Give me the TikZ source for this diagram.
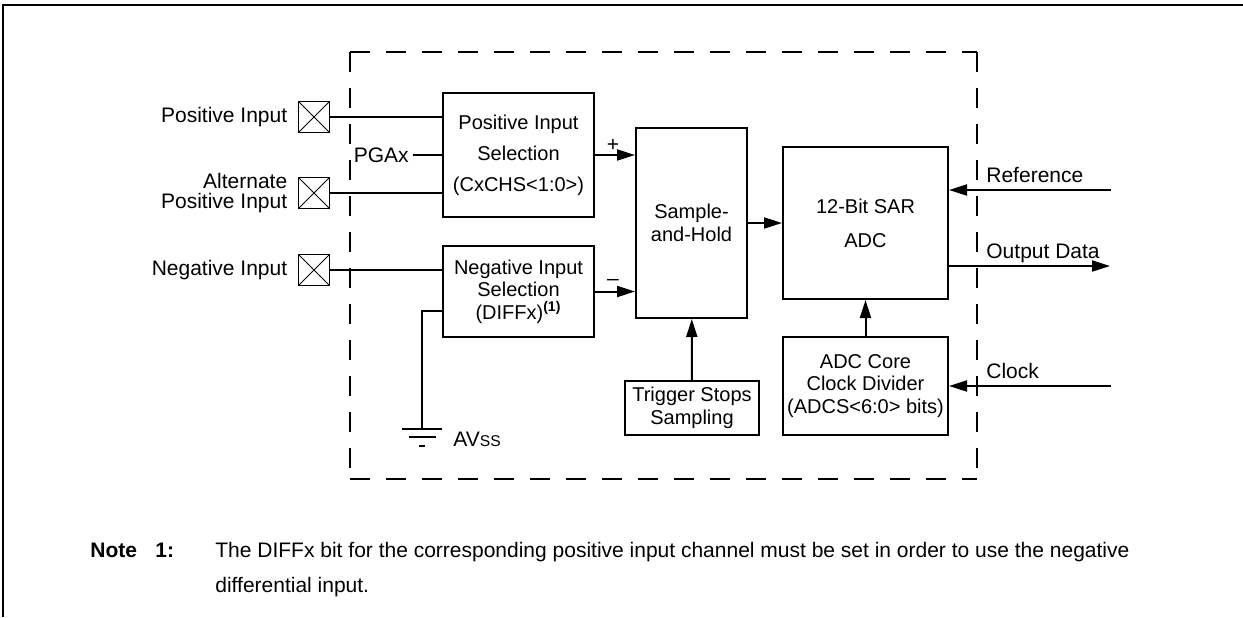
\documentclass[tikz,border=0pt]{standalone}
\usepackage{fontspec}
\setmainfont{Liberation Sans}
\usetikzlibrary{arrows.meta, positioning, calc}
\tikzset{
	blk/.style ={rectangle, draw=black, line width=1pt, align=center, inner sep=1pt, font=\fontsize{10}{11.25}\selectfont},
	pin/.style ={rectangle, draw=black, line width=0.9pt, minimum size=15.5pt, inner sep=0pt,
		path picture={\draw[line width=0.5pt] (path picture bounding box.south west) -- (path picture bounding box.north east)
			(path picture bounding box.north west) -- (path picture bounding box.south east);}},
	lbl/.style ={inner sep=0pt, align=right},
	tag/.style ={anchor=base west, inner sep=0pt},
	wire/.style={line width=1pt},
	sig/.style ={-{Triangle[length=9pt, width=5.5pt]}, line width=1pt},
	bound/.style={line width=1pt, dash pattern=on 10pt off 8pt},
}

\begin{document}
\begin{tikzpicture}[x=0.5pt, y=-0.5pt, every node/.style={font=\fontsize{10.5}{11.8}\selectfont}]
	\useasboundingbox (0,0) rectangle (1243,617);
	% frame and module boundary
	\draw[line width=1.2pt] (3,617) -- (3,5) -- (1243,5);
	\draw[bound] (350,52) -- (977,52);
	\draw[bound] (977,52) -- (977,479);
	\draw[bound] (350,52) -- (350,479);
	\draw[bound] (350,479) -- (977,479);
	% blocks
	\node[blk, minimum width=75.5pt, minimum height=62pt] (possel) at (518.5,155) {Positive Input\\[4.25pt]Selection\\[4.25pt](CxCHS<1:0>)};
	\node[blk, minimum width=75.5pt, minimum height=45.5pt] (negsel) at (518.5,291.5) {Negative Input\\Selection\\(DIFFx)\textsuperscript{\textbf{(1)}}};
	\node[blk, minimum width=55.5pt, minimum height=95pt] (sh) at (691.5,223) {Sample-\\and-Hold};
	\node[blk, minimum width=82.5pt, minimum height=76pt] (adc) at (865.5,223) {12-Bit SAR\\[5.75pt]ADC};
	\node[blk, minimum width=82.5pt, minimum height=49pt] (clkdiv) at (865.5,386) {ADC Core\\Clock Divider\\(ADCS<6:0> bits)};
	\node[blk, minimum width=67pt, minimum height=27pt] (trig) at (692,408) {Trigger Stops\\Sampling};
	% input pins
	\node[pin] (pinpos) at (314,117) {};
	\node[pin] (pinalt) at (314,193) {};
	\node[pin] (pinneg) at (314,270) {};
	\node[lbl, left=5pt of pinpos] (lblpos) {Positive Input};
	\node[lbl, left=5pt of pinalt, font=\fontsize{10.5}{9.6}\selectfont] (lblalt) {Alternate\\Positive Input};
	\node[lbl, left=5pt of pinneg] (lblneg) {Negative Input};
	\draw[wire] (pinpos) -- (pinpos -| possel.west);
	\draw[wire] (pinalt) -- (pinalt -| possel.west);
	\draw[wire] (pinneg) -- (pinneg -| negsel.west);
	\node[anchor=east, inner sep=0pt, inner xsep=2pt] (pga) at (413,155) {PGAx};
	\draw[wire] (pga) -- (pga -| possel.west);
	% ground
	\coordinate (gndtap) at ([yshift=-9.75pt]negsel.west);
	\coordinate (gnd) at (422,429);
	\draw[wire] (gndtap) -| (gnd);
	\draw[wire] ([xshift=-10pt]gnd) -- ([xshift=10pt]gnd)
		([xshift=-6.75pt,yshift=-4pt]gnd) -- ([xshift=6.75pt,yshift=-4pt]gnd)
		([xshift=-1.5pt,yshift=-8.5pt]gnd) -- ([xshift=1.5pt,yshift=-8.5pt]gnd);
	\node[anchor=west, inner sep=0pt] (avss) at (453,439) {AV{\fontsize{7.8}{8}\selectfont SS}};
	% signal path
	\draw[sig] (possel) -- (possel -| sh.west) node[pos=0.45, above, inner sep=1.5pt] {+};
	\draw[sig] (negsel) -- (negsel -| sh.west) node[pos=0.45, above, inner sep=2.3pt] {–};
	\draw[sig] (sh) -- (adc);
	\draw[sig] (trig) -- (sh);
	\draw[sig] (clkdiv) -- (adc);
	% external signals
	\coordinate (refin) at (1111,190);
	\coordinate (dataout) at (1110,266);
	\coordinate (clkin) at (1111,386);
	\draw[sig] (refin) -- (refin -| adc.east);
	\draw[sig] (adc.east |- dataout) -- (dataout);
	\draw[sig] (clkin) -- (clkin -| clkdiv.east);
	\node[tag] (reflbl) at (986,182) {Reference};
	\node[tag] (datalbl) at (986,258) {Output Data};
	\node[tag] (clklbl) at (986,378) {Clock};
	% note
	\node[tag, font=\bfseries\fontsize{10.5}{11.8}\selectfont] (notehd) at (90,557) {Note};
	\node[tag, font=\bfseries\fontsize{10.5}{11.8}\selectfont] (notenum) at (155,557) {1:};
	\node[tag] (note1) at (215,557) {The DIFFx bit for the corresponding positive input channel must be set in order to use the negative};
	\node[tag] (note2) at (215,592) {differential input.};
\end{tikzpicture}
\end{document}
